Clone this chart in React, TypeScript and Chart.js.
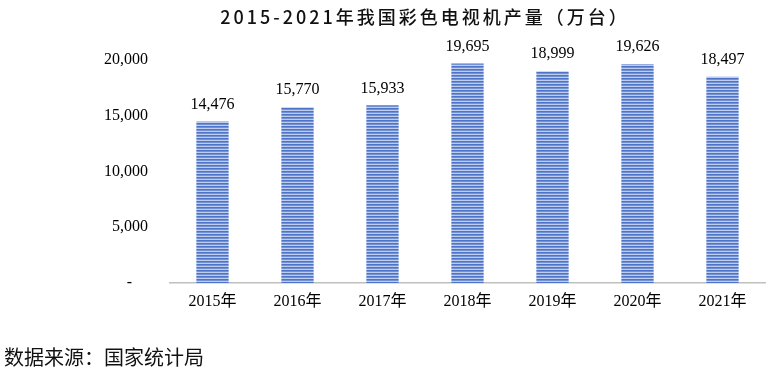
import React, { useEffect, useRef } from "react";
import { Chart, registerables } from "chart.js";

Chart.register(...registerables);

const categories = ["2015年", "2016年", "2017年", "2018年", "2019年", "2020年", "2021年"];
const production = [14476, 15770, 15933, 19695, 18999, 19626, 18497];
const yTicks = [0, 5000, 10000, 15000, 20000];
const titleText = "2015-2021年我国彩色电视机产量（万台）";
const sourceText = "数据来源：国家统计局";

const SERIF = "'Liberation Serif', 'DejaVu Serif', 'Noto Sans CJK SC', serif";
const CJK = "'Noto Sans CJK SC', sans-serif";

function makePattern(): CanvasPattern | string {
  const c = document.createElement("canvas");
  c.width = 1;
  c.height = 3;
  const g = c.getContext("2d");
  if (!g) return "#5b7fcf";
  const rows = ["#4e74ca", "#7392d6", "#bfcdec"];
  rows.forEach((col, i) => {
    g.fillStyle = col;
    g.fillRect(0, i, 1, 1);
  });
  const ctx = document.createElement("canvas").getContext("2d");
  return ctx ? (ctx.createPattern(c, "repeat") as CanvasPattern) : "#5b7fcf";
}

const textPlugin = {
  id: "texts",
  afterDatasetsDraw(chart: any) {
    const ctx = chart.ctx as CanvasRenderingContext2D;
    const meta = chart.getDatasetMeta(0);
    ctx.save();
    ctx.fillStyle = "#000";
    ctx.font = `16px ${SERIF}`;
    ctx.textAlign = "center";
    ctx.textBaseline = "bottom";
    meta.data.forEach((bar: any, i: number) => {
      ctx.fillText(production[i].toLocaleString("en-US"), bar.x, bar.y - 9);
    });
    ctx.restore();
  },
  afterDraw(chart: any) {
    const ctx = chart.ctx as CanvasRenderingContext2D;
    ctx.save();
    ctx.fillStyle = "#111";
    (ctx as any).letterSpacing = "3px";
    ctx.font = `500 18px ${CJK}`;
    ctx.textAlign = "center";
    ctx.textBaseline = "middle";
    ctx.fillText(titleText, 425, 17);
    (ctx as any).letterSpacing = "0px";
    ctx.font = `20px ${CJK}`;
    ctx.textAlign = "left";
    ctx.fillText(sourceText, 4, 357);
    ctx.restore();
  },
};

export default function App() {
  const ref = useRef<HTMLCanvasElement | null>(null);
  useEffect(() => {
    if (!ref.current) return;
    const pattern = makePattern();
    const chart = new Chart(ref.current, {
      type: "bar",
      data: {
        labels: categories,
        datasets: [
          {
            data: production,
            backgroundColor: pattern as any,
            categoryPercentage: 1,
            barPercentage: 0.38,
          },
        ],
      },
      options: {
        animation: false,
        responsive: false,
        layout: { padding: { top: 60, right: 8, left: 0, bottom: 0 } },
        plugins: { legend: { display: false }, title: { display: false }, tooltip: { enabled: false } },
        scales: {
          x: {
            grid: { display: false, drawTicks: false },
            border: { display: true, color: "#c0c0c0", width: 1.5 },
            ticks: { color: "#000", font: { size: 16, family: SERIF }, padding: 9, maxRotation: 0 },
            afterFit: (s: any) => {
              s.height = 96;
            },
          },
          y: {
            min: 0,
            max: 20000,
            grid: { display: false, drawTicks: false },
            border: { display: false },
            afterBuildTicks: (s: any) => {
              s.ticks = yTicks.map((v) => ({ value: v }));
            },
            ticks: {
              color: "#000",
              font: { size: 16, family: SERIF },
              padding: 22,
              callback: (v: any) => (Number(v) === 0 ? "-\u2007\u2007" : Number(v).toLocaleString("en-US")),
            },
            afterFit: (s: any) => {
              s.width = 170;
            },
          },
        },
      },
      plugins: [textPlugin],
    });
    return () => chart.destroy();
  }, []);
  return (
    <div style={{ position: "fixed", left: 0, top: 0, width: 773, height: 379, background: "#fff" }}>
      <canvas ref={ref} width={773} height={379} style={{ width: 773, height: 379 }} />
    </div>
  );
}
